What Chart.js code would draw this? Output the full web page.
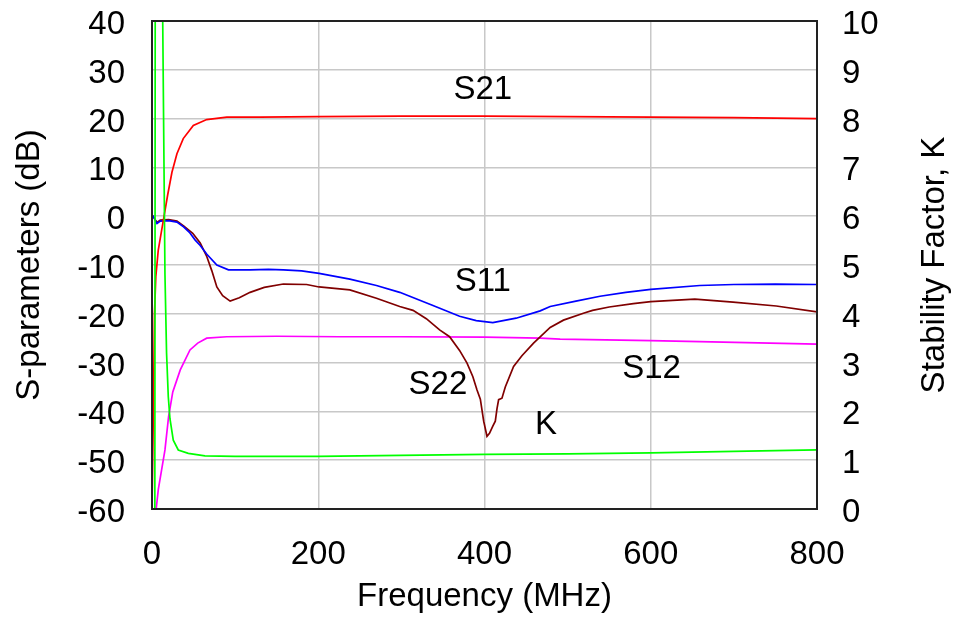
<!DOCTYPE html>
<html>
<head>
<meta charset="utf-8">
<script src="https://cdn.jsdelivr.net/npm/chart.js@4/dist/chart.umd.min.js"></script>
<style>
  body { margin: 0; background: #fff; }
  #box { width: 961px; height: 617px; }
</style>
</head>
<body>
<div id="box"><canvas id="chart"></canvas></div>
<script>
// values (frequency in MHz)
let s21Freq = [0, 1.2, 1.8, 3, 4.6, 7.5, 10, 14.5, 19, 24, 30, 37.6, 49.7, 65.8, 90, 130, 200, 300, 400, 500, 600, 700, 800];
let s21Db = [-60, -60, -38, -20, -12.4, -7, -4.5, 0, 4.5, 9, 12.8, 15.9, 18.6, 19.8, 20.3, 20.3, 20.4, 20.5, 20.5, 20.4, 20.3, 20.2, 20.0];

let s11Freq = [0, 3, 6, 10, 20, 30, 38, 45, 52, 58, 66, 78, 92, 105, 118, 140, 158, 180, 201, 238, 270, 298, 338, 370, 390, 410, 438, 467, 479, 510, 539, 570, 600, 659, 700, 750, 800];
let s11Db = [0.3, -0.5, -1.5, -1.0, -0.9, -1.2, -2.2, -3.3, -4.9, -6.0, -7.8, -10.0, -11.0, -11.0, -11.0, -10.9, -11.0, -11.2, -11.7, -12.9, -14.2, -15.6, -18.3, -20.5, -21.4, -21.8, -20.9, -19.4, -18.5, -17.4, -16.4, -15.6, -15.0, -14.2, -14.0, -13.9, -14.0];

let s22Freq = [0, 3, 6, 10, 20, 30, 38, 49, 58, 66, 72, 78, 85, 94, 105, 118, 135, 158, 186, 201, 238, 270, 298, 314, 330, 346, 358, 370, 379, 386, 391, 395, 399, 403, 406, 410, 413, 415, 417, 421, 425, 435, 445, 459, 479, 495, 519, 530, 550, 579, 600, 653, 699, 751, 800];
let s22Db = [0.3, -0.5, -1.3, -0.8, -0.7, -1.0, -2.0, -3.5, -5.5, -8.3, -11.2, -14.5, -16.3, -17.4, -16.7, -15.6, -14.6, -13.9, -14.0, -14.5, -15.1, -16.8, -18.5, -19.3, -21.0, -23.3, -24.7, -27.5, -30.1, -32.9, -35.6, -37.5, -42.0, -45.1, -44.5, -43.0, -42.0, -39.5, -37.6, -37.3, -35.0, -30.8, -28.6, -26.0, -22.8, -21.3, -19.9, -19.3, -18.6, -17.9, -17.5, -17.0, -17.6, -18.4, -19.6];

let s12Freq = [0, 5, 7.6, 15.6, 20, 25, 34, 45.7, 55, 65.8, 90, 150, 226, 298, 400, 467, 491, 600, 659, 800];
let s12Db = [-60, -60, -56, -47.9, -41, -36, -31.5, -27.4, -26, -25.0, -24.7, -24.6, -24.7, -24.7, -24.8, -25.0, -25.2, -25.5, -25.7, -26.2];

let kFreq = [0, 3.4, 3.9, 12.5, 12.9, 15.6, 17.5, 19.6, 21.6, 25.6, 31.6, 43.7, 63.7, 100, 200, 299, 400, 500, 600, 700, 800];
let kVal = [-1, -0.5, 11, 11, 10, 4.8, 3.2, 2.3, 1.85, 1.41, 1.21, 1.14, 1.09, 1.08, 1.08, 1.1, 1.12, 1.13, 1.15, 1.18, 1.21];

let labelText = ["S21", "S11", "S22", "S12", "K"];
let labelFreq = [398, 398, 344, 601, 474];
let labelDb = [25.8, -13.4, -34.6, -31.2, -42.8];

let fontName = "'Liberation Sans', Arial, sans-serif";
let fontSize = 33;

function toPoints(xs, ys) {
  return xs.map((x, i) => ({ x: x, y: ys[i] }));
}

function makeSet(name, xs, ys, color, axis) {
  return {
    label: name,
    data: toPoints(xs, ys),
    borderColor: color,
    borderWidth: 1.7,
    pointRadius: 0,
    tension: 0,
    fill: false,
    yAxisID: axis
  };
}

function noPad(s) {
  s.paddingTop = 0;
  s.paddingBottom = 0;
  s.paddingLeft = 0;
  s.paddingRight = 0;
}

// frame round the plot, curve names and the right axis title
let framePlugin = {
  id: "frame",
  afterDatasetsDraw(chart) {
    let ctx = chart.ctx;
    let a = chart.chartArea;
    let xs = chart.scales.x;
    let ys = chart.scales.y;
    ctx.save();
    ctx.fillStyle = "#000";
    ctx.font = fontSize + "px " + fontName;
    ctx.textAlign = "center";
    ctx.textBaseline = "middle";
    for (let i = 0; i < labelText.length; i++) {
      ctx.fillText(labelText[i], xs.getPixelForValue(labelFreq[i]), ys.getPixelForValue(labelDb[i]));
    }
    ctx.translate(935, (a.top + a.bottom) / 2);
    ctx.rotate(-Math.PI / 2);
    ctx.fillText("Stability Factor, K", 0, 0);
    ctx.restore();

    ctx.save();
    ctx.strokeStyle = "#222";
    ctx.lineWidth = 2;
    ctx.strokeRect(a.left, a.top, a.right - a.left, a.bottom - a.top);
    ctx.restore();
  }
};

window.onload = function () {
  let ctx = document.getElementById("chart");
  new Chart(ctx, {
    type: "line",
    data: {
      datasets: [
        makeSet("K", kFreq, kVal, "#00ff00", "y2"),
        makeSet("S21", s21Freq, s21Db, "#ff0000", "y"),
        makeSet("S11", s11Freq, s11Db, "#0000ff", "y"),
        makeSet("S22", s22Freq, s22Db, "#800000", "y"),
        makeSet("S12", s12Freq, s12Db, "#ff00ff", "y")
      ]
    },
    options: {
      responsive: true,
      maintainAspectRatio: false,
      animation: false,
      layout: { padding: { top: 21, left: 0, right: 0, bottom: 0 } },
      plugins: { legend: { display: false }, tooltip: { enabled: false } },
      scales: {
        x: {
          type: "linear",
          min: 0,
          max: 800,
          afterFit: (s) => { s.height = 108; noPad(s); },
          ticks: { stepSize: 200, color: "#000", padding: 26, font: { family: fontName, size: fontSize } },
          grid: { color: "#c8c8c8", lineWidth: 1.5, drawTicks: false },
          border: { display: false },
          title: { display: true, text: "Frequency (MHz)", color: "#000", padding: 0, font: { family: fontName, size: fontSize } }
        },
        y: {
          position: "left",
          min: -60,
          max: 40,
          afterFit: (s) => { s.width = 152; noPad(s); },
          ticks: { stepSize: 10, color: "#000", padding: 27, labelOffset: 4, font: { family: fontName, size: fontSize } },
          grid: { color: "#c8c8c8", lineWidth: 1.5, drawTicks: false },
          border: { display: false },
          title: { display: true, text: "S-parameters (dB)", color: "#000", padding: { top: 10 }, font: { family: fontName, size: fontSize } }
        },
        y2: {
          position: "right",
          min: 0,
          max: 10,
          afterFit: (s) => { s.width = 144; noPad(s); },
          ticks: { stepSize: 1, color: "#000", padding: 25, labelOffset: 4, font: { family: fontName, size: fontSize } },
          grid: { drawOnChartArea: false, drawTicks: false },
          border: { display: false }
        }
      }
    },
    plugins: [framePlugin]
  });
}
</script>
</body>
</html>
